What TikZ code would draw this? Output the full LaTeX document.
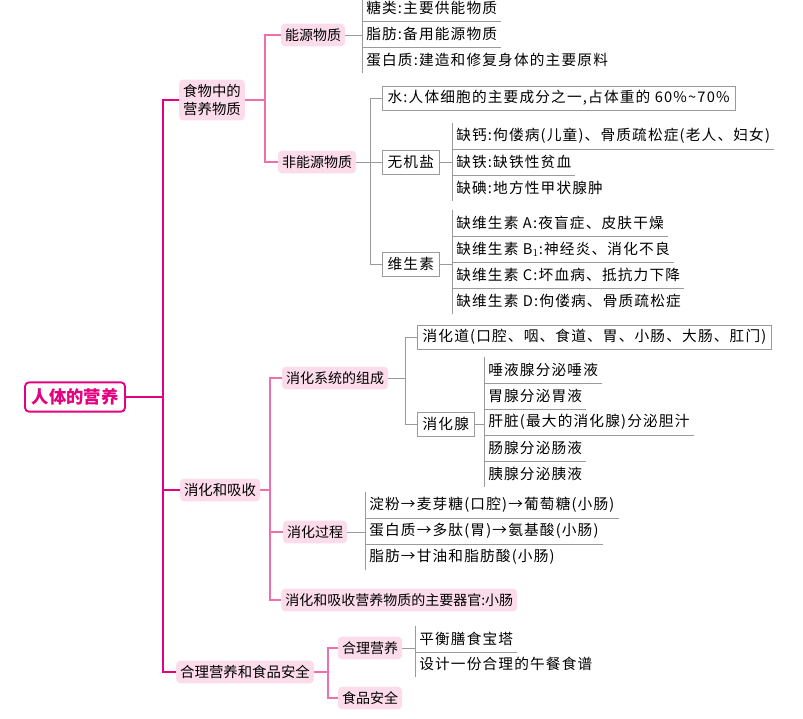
\documentclass[tikz,border=0pt]{standalone}
\usepackage{fontspec}
\setmainfont{Noto Sans CJK SC}
\newfontfamily\leaffont[LetterSpace=8]{Noto Sans CJK SC}
\usepackage{tikz}
\usetikzlibrary{calc,positioning}
\definecolor{mag}{HTML}{E4007F}
\definecolor{pinkfill}{HTML}{FCDCEB}
\definecolor{pinkline}{HTML}{F06EAA}
\definecolor{leafgray}{HTML}{9A9A9A}
\tikzset{
    root/.style={draw=mag, line width=1.4pt, rounded corners=3pt, text=mag,
        font=\fontsize{13}{15}\selectfont\bfseries, inner xsep=5pt, minimum height=22pt},
    topic/.style={fill=pinkfill, rounded corners=3pt, font=\fontsize{10.8}{14}\selectfont,
        inner xsep=3pt, minimum height=17pt, align=center},
    sub/.style={fill=pinkfill, rounded corners=3pt, font=\fontsize{10.5}{12}\selectfont,
        inner xsep=3pt, minimum height=17pt},
    boxed/.style={draw=leafgray, font=\leaffont\fontsize{11}{12}\selectfont, inner xsep=4pt,
        minimum height=18pt, anchor=west},
    leaf/.style={font=\leaffont\fontsize{11}{12}\selectfont, inner xsep=3pt, inner ysep=0pt,
        minimum height=19.5pt, anchor=west},
    trunk/.style={mag, line width=1.6pt},
    branch/.style={pinkline, line width=0.8pt},
    twig/.style={leafgray, line width=0.6pt}
}
\begin{document}
\begin{tikzpicture}[x=0.75pt, y=-0.75pt]
\useasboundingbox (0,0) rectangle (803,718);
% root and main topics
\node[root] (body) at (75,397) {人体的营养};
\node[topic] (food) at (212,100) {食物中的\\营养物质};
\node[topic] (digest) at (220,490) {消化和吸收};
\node[topic] (safe) at (245,672) {合理营养和食品安全};
\coordinate (t) at (163,397);
\draw[trunk] (body.east) -- (t) |- (food.west);
\draw[trunk] (t) |- (digest.west);
\draw[trunk] (t) |- (safe.west);
% food
\node[sub] (energy) at (313,35) {能源物质};
\node[sub] (nonenergy) at (317,162) {非能源物质};
\coordinate (j1) at (265,100);
\draw[branch] (food.east) -- (j1) |- (energy.west);
\draw[branch] (j1) |- (nonenergy.west);
\node[leaf] (e1) at (362,8) {糖类:主要供能物质};
\node[leaf] (e2) at (362,34) {脂肪:备用能源物质};
\node[leaf] (e3) at (362,60) {蛋白质:建造和修复身体的主要原料};
\draw[twig] (e1.north west) -- (e3.south west);
\draw[twig] (e1.south west) -- (e1.south east) (e2.south west) -- (e2.south east);
\draw[twig] (energy.east) -- (energy.east -| e2.west);
\node[boxed] (water) at (382,98) {水:人体细胞的主要成分之一,占体重的 60\%\textasciitilde70\%};
\node[boxed] (salt) at (382,162) {无机盐};
\node[boxed] (vit) at (382,264) {维生素};
\coordinate (j2) at (370,162);
\draw[twig] (nonenergy.east) -- (j2);
\draw[twig] (water.west) -| (vit.west -| j2) -- (vit.west);
\draw[twig] (j2) -- (salt.west);
\node[leaf] (s1) at (452,136) {缺钙:佝偻病(儿童)、骨质疏松症(老人、妇女)};
\node[leaf] (s2) at (452,162) {缺铁:缺铁性贫血};
\node[leaf] (s3) at (452,188) {缺碘:地方性甲状腺肿};
\draw[twig] (s1.north west) -- (s3.south west);
\draw[twig] (s1.south west) -- (s1.south east) (s2.south west) -- (s2.south east);
\draw[twig] (salt.east) -- (salt.east -| s2.west);
\node[leaf] (v1) at (452,223) {缺维生素 A:夜盲症、皮肤干燥};
\node[leaf] (v2) at (452,249) {缺维生素 B$_1$:神经炎、消化不良};
\node[leaf] (v3) at (452,275) {缺维生素 C:坏血病、抵抗力下降};
\node[leaf] (v4) at (452,301) {缺维生素 D:佝偻病、骨质疏松症};
\draw[twig] (v1.north west) -- (v4.south west);
\foreach \n in {v1,v2,v3} \draw[twig] (\n.south west) -- (\n.south east);
\draw[twig] (vit.east) -- (vit.east -| v2.west);
% digestion
\node[sub] (system) at (335,378) {消化系统的组成};
\node[sub] (process) at (315,532) {消化过程};
\node[sub, anchor=west] (organ) at (281,600) {消化和吸收营养物质的主要器官:小肠};
\coordinate (j3) at (270,490);
\draw[branch] (digest.east) -- (j3) |- (system.west);
\draw[branch] (j3) |- (process.west);
\draw[branch] (j3) |- (organ.west);
\node[boxed] (tract) at (417,337) {消化道(口腔、咽、食道、胃、小肠、大肠、肛门)};
\node[boxed] (gland) at (417,424) {消化腺};
\draw[twig] (system.east) -- (405,378);
\draw[twig] (tract.west) -| (gland.west -| 405,0) -- (gland.west);
\node[leaf] (g1) at (484,370) {唾液腺分泌唾液};
\node[leaf] (g2) at (484,396) {胃腺分泌胃液};
\node[leaf] (g3) at (484,422) {肝脏(最大的消化腺)分泌胆汁};
\node[leaf] (g4) at (484,448) {肠腺分泌肠液};
\node[leaf] (g5) at (484,474) {胰腺分泌胰液};
\draw[twig] (g1.north west) -- (g5.south west);
\foreach \n in {g1,g2,g3,g4} \draw[twig] (\n.south west) -- (\n.south east);
\draw[twig] (gland.east) -- (gland.east -| g3.west);
\node[leaf] (p1) at (365,505) {淀粉→麦芽糖(口腔)→葡萄糖(小肠)};
\node[leaf] (p2) at (365,531) {蛋白质→多肽(胃)→氨基酸(小肠)};
\node[leaf] (p3) at (365,557) {脂肪→甘油和脂肪酸(小肠)};
\draw[twig] (p1.north west) -- (p3.south west);
\draw[twig] (p1.south west) -- (p1.south east) (p2.south west) -- (p2.south east);
\draw[twig] (process.east) -- (process.east -| p2.west);
% safety
\node[sub] (diet) at (370,648) {合理营养};
\node[sub] (food2) at (370,698) {食品安全};
\coordinate (j4) at (328,672);
\draw[branch] (safe.east) -- (j4) |- (diet.west);
\draw[branch] (j4) |- (food2.west);
\node[leaf] (d1) at (415,639) {平衡膳食宝塔};
\node[leaf] (d2) at (415,664) {设计一份合理的午餐食谱};
\draw[twig] (d1.north west) -- (d2.south west);
\draw[twig] (d1.south west) -- (d1.south east);
\draw[twig] (diet.east) -- (diet.east -| d1.west);
\end{tikzpicture}
\end{document}
